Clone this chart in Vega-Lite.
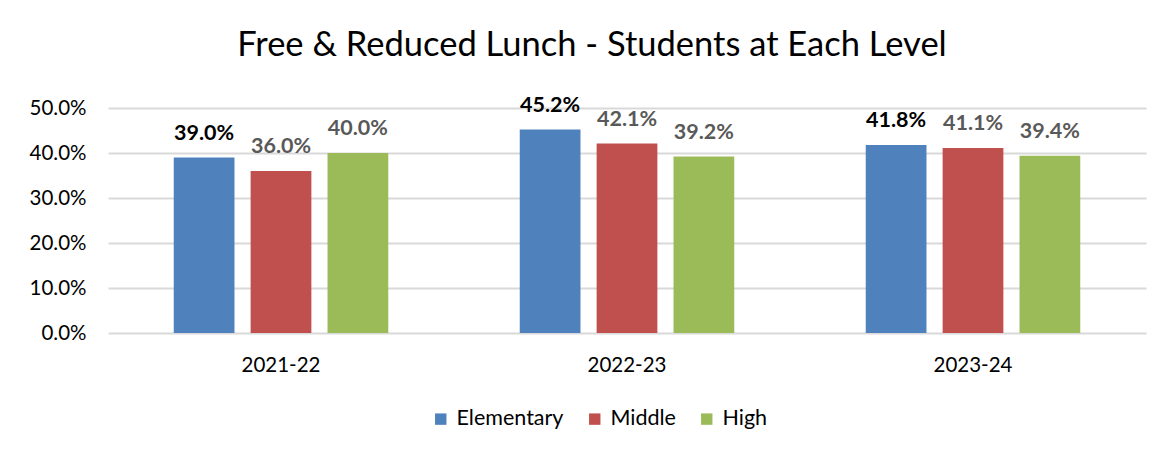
{
  "$schema": "https://vega.github.io/schema/vega-lite/v6.json",
  "autosize": "none",
  "width": 1038,
  "height": 225,
  "padding": {"left": 108, "top": 108, "right": 20, "bottom": 117},
  "background": "white",
  "title": {
    "text": "Free & Reduced Lunch - Students at Each Level",
    "font": "Lato",
    "fontSize": 34.5,
    "fontWeight": "normal",
    "color": "#000000",
    "anchor": "middle",
    "dx": -35,
    "offset": 31
  },
  "data": {
    "values": [
      {"year": "2021-22", "level": "Elementary", "value": 0.390},
      {"year": "2021-22", "level": "Middle", "value": 0.360},
      {"year": "2021-22", "level": "High", "value": 0.400},
      {"year": "2022-23", "level": "Elementary", "value": 0.452},
      {"year": "2022-23", "level": "Middle", "value": 0.421},
      {"year": "2022-23", "level": "High", "value": 0.392},
      {"year": "2023-24", "level": "Elementary", "value": 0.418},
      {"year": "2023-24", "level": "Middle", "value": 0.411},
      {"year": "2023-24", "level": "High", "value": 0.394}
    ]
  },
  "encoding": {
    "x": {
      "field": "year", "type": "nominal", "title": null,
      "scale": {"paddingInner": 0.38, "paddingOuter": 0.19},
      "axis": {"labelAngle": 0, "domain": false, "ticks": false, "labelPadding": 22, "labelFont": "Lato", "labelFontSize": 20.5, "labelColor": "#000000"}
    },
    "xOffset": {"field": "level", "type": "nominal", "sort": ["Elementary", "Middle", "High"], "scale": {"paddingInner": 0.21}},
    "y": {
      "field": "value", "type": "quantitative", "title": null,
      "scale": {"domain": [0, 0.5]},
      "axis": {"format": ".1%", "values": [0, 0.1, 0.2, 0.3, 0.4, 0.5], "labelOverlap": false, "labelFlush": false, "domain": false, "ticks": false, "labelPadding": 22, "labelFont": "Lato", "labelFontSize": 20.5, "labelColor": "#000000", "gridColor": "#D9D9D9", "gridWidth": 2}
    }
  },
  "layer": [
    {
      "mark": {"type": "bar"},
      "encoding": {
        "color": {
          "field": "level", "type": "nominal", "sort": ["Elementary", "Middle", "High"],
          "scale": {"domain": ["Elementary", "Middle", "High"], "range": ["#4F81BD", "#C0504D", "#9BBB59"]},
          "legend": {"title": null, "orient": "none", "legendX": 322, "legendY": 300, "direction": "horizontal", "symbolType": "square", "symbolSize": 130, "symbolStrokeWidth": 0, "labelFont": "Lato", "labelFontSize": 21.5, "labelColor": "#000000", "columnPadding": 20, "labelOffset": 5}
        }
      }
    },
    {
      "mark": {"type": "text", "baseline": "bottom", "dy": -13, "font": "Lato", "fontSize": 21.5, "fontWeight": "bold"},
      "encoding": {
        "text": {"field": "value", "type": "quantitative", "format": ".1%"},
        "color": {"condition": {"test": "datum.level === 'Elementary'", "value": "#000000"}, "value": "#595959"}
      }
    }
  ],
  "config": {"view": {"stroke": null}}
}
